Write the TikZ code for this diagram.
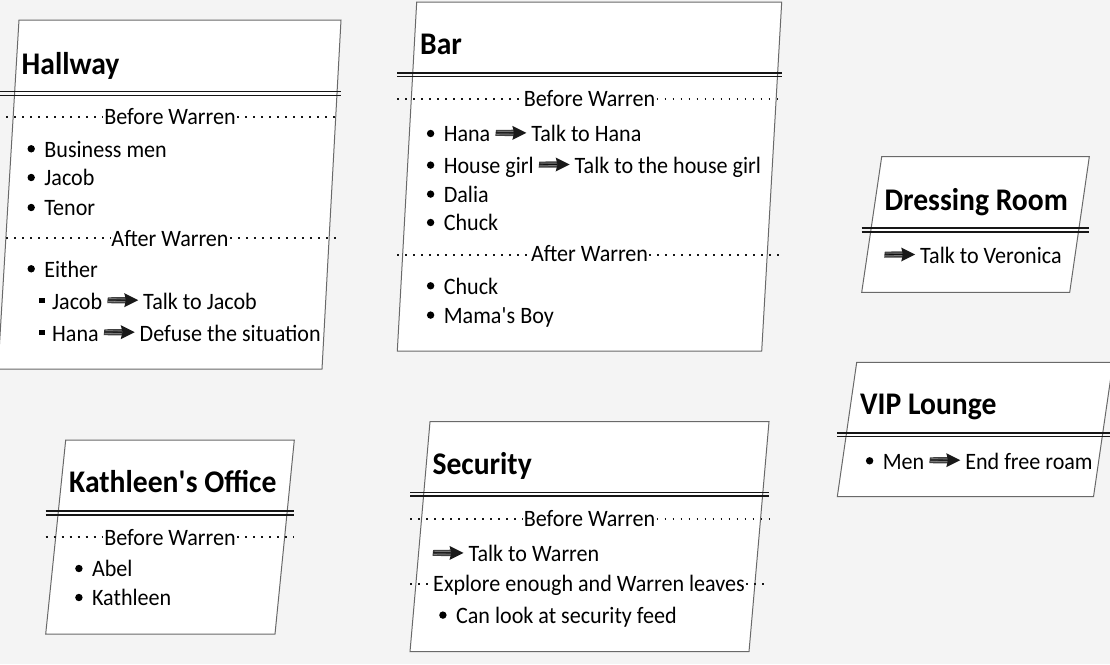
\documentclass[tikz,border=0pt]{standalone}
\usepackage{fontspec}
\setmainfont{Carlito}
\newfontfamily\bodyfam{Carlito}[FakeStretch=0.94]
\definecolor{bg}{RGB}{244,244,244}
\definecolor{edge}{RGB}{105,105,105}
\definecolor{ink}{RGB}{22,22,22}
\newcommand\bodyfont{\bodyfam\fontsize{23.5}{28}\selectfont}
\newcommand\titlefont{\bodyfam\fontsize{31.5}{36}\selectfont\bfseries}
\newcommand\bulC{\tikz[baseline=0pt,x=1pt,y=1pt]\fill[black] (3.7,8.2) circle (3.7);\hspace{9.5pt}}
\newcommand\bulS{\tikz[baseline=0pt,x=1pt,y=1pt]\fill[black] (0,5.7) rectangle (5.5,11.2);\hspace{7.5pt}}
\newcommand\myarr{\tikz[baseline=0pt,x=1pt,y=1pt]{%
  \fill[black!75] (0,5.8) -- (19,5.6) -- (19,12) -- (0.6,11.7) -- cycle;
  \draw[black!40,line width=0.5pt] (1,7.4) -- (18,7.7);
  \draw[black!45,line width=0.5pt] (2,10.3) -- (18,10.2);
  \draw[black!95,line width=0.8pt] (0.5,9) -- (19,8.8);
  \fill[black!90] (17,15.8) -- (31,8.8) -- (17,1.8) -- (18.8,8.8) -- cycle;}}
\newcommand\dline[3]{\draw[dbl] (#1,#3) -- (#2,#3); \draw[dbl] (#1,#3+3.8) -- (#2,#3+3.8);}
\newcommand\sepl[7]{%
  \node[sep] (#1) at (#4,#5) {#7};
  \coordinate (#1L) at (#2,#6); \coordinate (#1R) at (#3,#6);
  \draw[dots] (#1L) -- (#1L -| #1.west);
  \draw[dots] (#1.east |- #1R) -- (#1R);}
\begin{document}
\begin{tikzpicture}[x=1pt,y=-1pt,
  box/.style={fill=white,draw=edge,line width=1pt},
  dbl/.style={draw=ink,line width=1.6pt},
  dots/.style={draw=ink,line width=1.8pt,dash pattern=on 1.8pt off 6.2pt},
  ttl/.style={anchor=base west,inner sep=0pt,font=\titlefont,text=black},
  ln/.style={anchor=base west,inner sep=0pt,font=\bodyfont,text=black},
  sep/.style={anchor=base,inner xsep=1.2pt,inner ysep=0pt,font=\bodyfont,text=black}]
\fill[bg] (0,0) rectangle (1110,664);
\useasboundingbox (0,0) rectangle (1110,664);

% ---------- Hallway
\draw[box] (19,20) -- (341,20) -- (322,369) -- (-2,369) -- cycle;
\dline{-2}{341}{91.5}
\node[ttl] (hT) at (21.5,74) {Hallway};
\sepl{hSa}{-2}{341}{170}{124}{117.3}{Before Warren}
\node[ln] (hA) at (27.3,157) {\bulC Business men};
\node[ln] (hB) at (27.3,185.7) {\bulC Jacob};
\node[ln] (hC) at (27.3,215.7) {\bulC Tenor};
\sepl{hSb}{-2}{341}{170}{246}{237.7}{After Warren}
\node[ln] (hD) at (27.3,277) {\bulC Either};
\node[ln] (hE) at (39,309) {\bulS Jacob \myarr{} Talk to Jacob};
\node[ln] (hF) at (39,341) {\bulS Hana \myarr{} Defuse the situation};

% ---------- Bar
\draw[box] (416.7,2) -- (781.7,2) -- (761.7,351) -- (397.3,351) -- cycle;
\dline{397.3}{781.7}{72.7}
\node[ttl] (bT) at (420,54) {Bar};
\sepl{bSa}{397.3}{781.7}{589.5}{106}{99}{Before Warren}
\node[ln] (bA) at (426.7,141.7) {\bulC Hana \myarr{} Talk to Hana};
\node[ln] (bB) at (426.7,173.3) {\bulC House girl \myarr{} Talk to the house girl};
\node[ln] (bC) at (426.7,202.3) {\bulC Dalia};
\node[ln] (bD) at (426.7,230.7) {\bulC Chuck};
\sepl{bSb}{397.3}{781.7}{589.5}{261.7}{255}{After Warren}
\node[ln] (bE) at (426.7,294) {\bulC Chuck};
\node[ln] (bF) at (426.7,323.3) {\bulC Mama\textquotesingle s Boy};

% ---------- Dressing Room
\draw[box] (881.7,156.7) -- (1089.3,156.7) -- (1069.7,292.3) -- (861.7,292.3) -- cycle;
\dline{861.7}{1089.3}{228.2}
\node[ttl] (dT) at (884.3,210.7) {Dressing Room};
\node[ln] (dA) at (884,263.3) {\myarr{} Talk to Veronica};

% ---------- VIP Lounge
\draw[box] (856.7,362.3) -- (1113,362.3) -- (1093.5,496.7) -- (837.3,496.7) -- cycle;
\dline{837.3}{1113}{432.7}
\node[ttl] (vT) at (860,414.3) {VIP Lounge};
\node[ln] (vA) at (865.7,469) {\bulC Men \myarr{} End free roam};

% ---------- Kathleen's Office
\draw[box] (65.7,440) -- (294.3,440) -- (275,634) -- (45.7,634) -- cycle;
\dline{45.7}{294.3}{511}
\node[ttl] (kT) at (69,492.7) {Kathleen\textquotesingle s Office};
\sepl{kSa}{45.7}{294.3}{170}{545}{537.3}{Before Warren}
\node[ln] (kA) at (75,576.7) {\bulC Abel};
\node[ln] (kB) at (75,605.7) {\bulC Kathleen};

% ---------- Security
\draw[box] (430,421.7) -- (769,421.7) -- (749,651.7) -- (410,651.7) -- cycle;
\dline{410}{769}{492.3}
\node[ttl] (sT) at (432.3,474.3) {Security};
\sepl{sSa}{410}{769}{589.5}{526.7}{519}{Before Warren}
\node[ln] (sA) at (432.3,561.7) {\myarr{} Talk to Warren};
\sepl{sSb}{410}{769}{589}{591.7}{584}{Explore enough and Warren leaves}
\node[ln] (sB) at (439,623.3) {\bulC Can look at security feed};
\end{tikzpicture}
\end{document}
